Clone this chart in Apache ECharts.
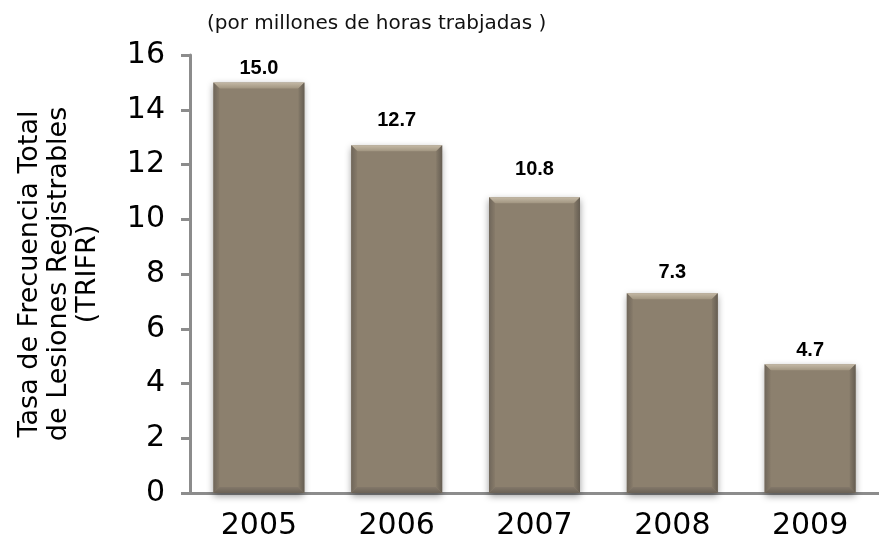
<!DOCTYPE html>
<html>
<head>
<meta charset="utf-8">
<script src="https://cdn.jsdelivr.net/npm/echarts@6/dist/echarts.min.js"></script>
<style>
    html, body { margin: 0; padding: 0; background: #fff; }
    #chart { width: 879px; height: 544px; }
</style>
</head>
<body>
<div id="chart"></div>
<script>
var years = ['2005', '2006', '2007', '2008', '2009'];
var trifr = [15.0, 12.7, 10.8, 7.3, 4.7];
var yTicks = [0, 2, 4, 6, 8, 10, 12, 14, 16];
// gap between each value label and its bar (the labels sit at uneven heights)
var labelGaps = [4, 15, 18, 11, 4];

var BAR_W = 0.66; // share of a category taken by the bar

var myChart = echarts.init(document.getElementById('chart'));

var seriesData = trifr.map(function(v, i) {
    return {
        value: v,
        label: { distance: labelGaps[i] }
    };
});

// bevel edges drawn over each bar
function bevel(params, api) {
    var top = api.coord([api.value(0), api.value(1)]);
    var base = api.coord([api.value(0), 0]);
    var w = api.size([1, 0])[0] * BAR_W;
    var x0 = top[0] - w / 2, x1 = top[0] + w / 2;
    var y0 = top[1], y1 = base[1];
    var b = 6;
    return {
        type: 'group',
        children: [{
            type: 'polygon',
            shape: { points: [[x0, y0], [x1, y0], [x1 - b, y0 + b], [x0 + b, y0 + b]] },
            style: { fill: new echarts.graphic.LinearGradient(0, 0, 0, 1, [
                { offset: 0, color: '#c4b9a6' },
                { offset: 1, color: '#a19580' }
            ]) }
        }, {
            type: 'polygon',
            shape: { points: [[x0, y0], [x0 + b, y0 + b], [x0 + b, y1 - b], [x0, y1]] },
            style: { fill: new echarts.graphic.LinearGradient(0, 0, 1, 0, [
                { offset: 0, color: '#6f665a' },
                { offset: 1, color: '#877b6a' }
            ]) }
        }, {
            type: 'polygon',
            shape: { points: [[x1, y0], [x1, y1], [x1 - b, y1 - b], [x1 - b, y0 + b]] },
            style: { fill: new echarts.graphic.LinearGradient(1, 0, 0, 0, [
                { offset: 0, color: '#655d52' },
                { offset: 1, color: '#857a69' }
            ]) }
        }, {
            type: 'polygon',
            shape: { points: [[x0, y1], [x1, y1], [x1 - b, y1 - b], [x0 + b, y1 - b]] },
            style: { fill: new echarts.graphic.LinearGradient(0, 1, 0, 0, [
                { offset: 0, color: '#6b6256' },
                { offset: 1, color: '#83786a' }
            ]) }
        }]
    };
}

var option = {
    animation: false,
    title: {
        text: '(por millones de horas trabjadas )',
        left: 202,
        top: 9,
        textStyle: {
            fontFamily: 'DejaVu Sans',
            fontSize: 20,
            fontWeight: 'normal',
            color: '#111'
        }
    },
    grid: {
        left: 190,
        right: -8.5,
        top: 55,
        bottom: 51
    },
    xAxis: {
        type: 'category',
        data: years,
        axisLine: { lineStyle: { color: '#8c8c8c', width: 3 } },
        axisTick: { length: 8, lineStyle: { color: '#8c8c8c', width: 3 } },
        axisLabel: {
            margin: 18,
            fontFamily: 'DejaVu Sans',
            fontSize: 30,
            color: '#000'
        }
    },
    yAxis: {
        type: 'value',
        min: yTicks[0],
        max: yTicks[yTicks.length - 1],
        interval: 2,
        name: 'Tasa de Frecuencia Total\nde Lesiones Registrables\n(TRIFR)',
        nameLocation: 'middle',
        nameGap: 88,
        nameTextStyle: {
            fontFamily: 'DejaVu Sans',
            fontSize: 27,
            lineHeight: 29,
            color: '#000'
        },
        axisLine: { show: true, lineStyle: { color: '#8c8c8c', width: 3 } },
        axisTick: { show: true, length: 9, lineStyle: { color: '#8c8c8c', width: 3 } },
        splitLine: { show: false },
        axisLabel: {
            margin: 25,
            fontFamily: 'DejaVu Sans',
            fontSize: 30,
            color: '#000'
        }
    },
    series: [{
        type: 'bar',
        data: seriesData,
        barWidth: '66%',
        itemStyle: {
            color: '#8c806e',
            shadowColor: 'rgba(0,0,0,0.4)',
            shadowBlur: 7,
            shadowOffsetY: 3
        },
        label: {
            show: true,
            position: 'top',
            formatter: function(p) { return p.value.toFixed(1); },
            fontFamily: 'Liberation Sans',
            fontWeight: 'bold',
            fontSize: 20,
            color: '#000'
        }
    }, {
        type: 'custom',
        renderItem: bevel,
        data: trifr.map(function(v, i) { return [i, v]; }),
        z: 3,
        silent: true
    }]
};

myChart.setOption(option);
</script>
</body>
</html>
